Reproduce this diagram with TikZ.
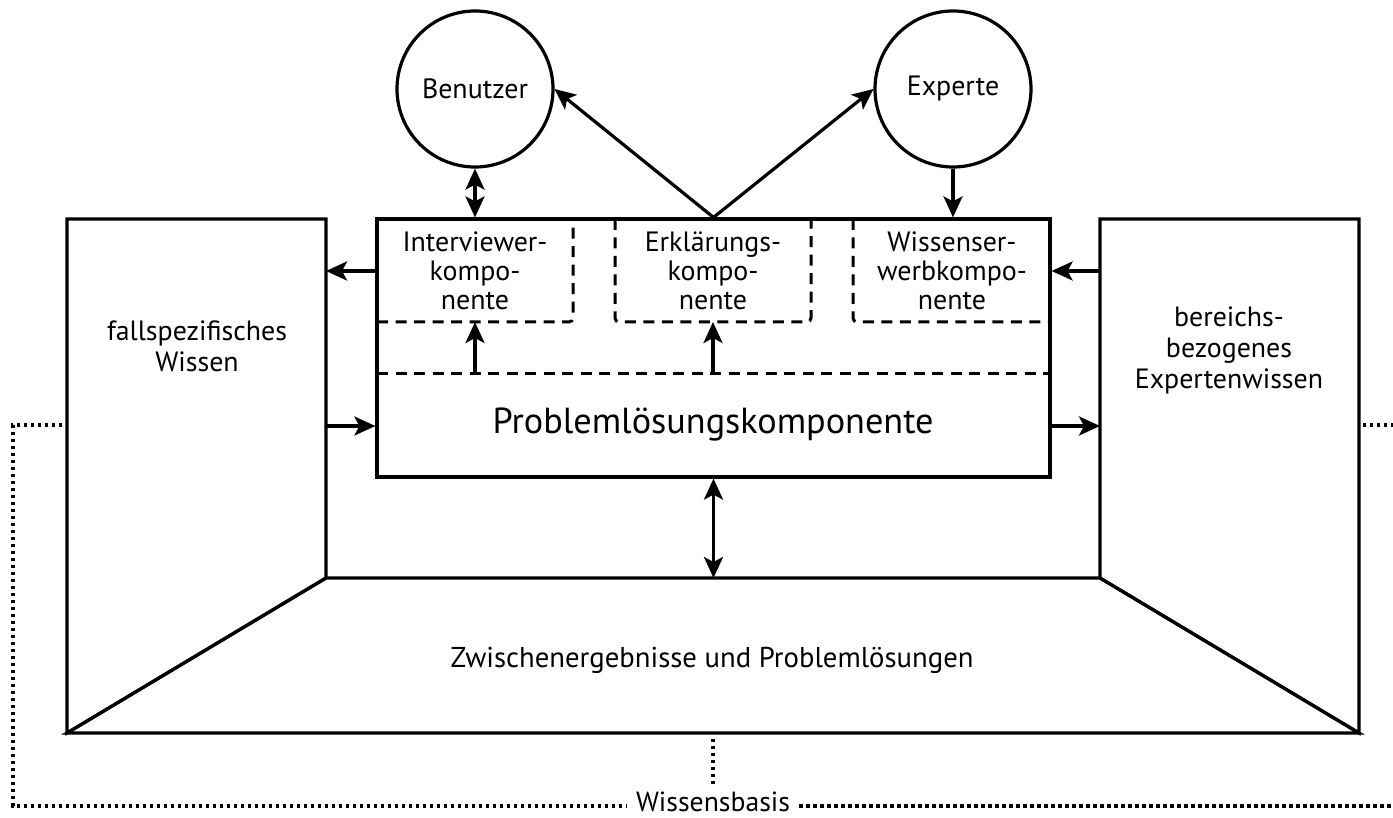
\documentclass[tikz,border=0pt]{standalone}
\usepackage{fontspec}
\setmainfont{PT Sans}
\usetikzlibrary{arrows.meta}
\newlength\fitlen
% #1 target width (pt), #2 baselineskip (pt), #3 sample text
\newcommand\fitfont[3]{%
  \settowidth\fitlen{\fontsize{10pt}{12pt}\selectfont #3}%
  \pgfmathsetmacro\fitsz{10*#1/\fitlen}%
  \fontsize{\fitsz pt}{#2 pt}\selectfont}
\begin{document}
\begin{tikzpicture}[x=1pt,y=-1pt,
  solidline/.style={line width=3.2pt, line join=miter},
  arr/.style={line width=3.2pt,-{Stealth[length=21pt,width=19pt,inset=5pt]}},
  darr/.style={line width=3.2pt,{Stealth[length=21pt,width=19pt,inset=5pt]}-{Stealth[length=21pt,width=19pt,inset=5pt]}},
  dashline/.style={line width=3pt, dash pattern=on 11pt off 7.5pt},
  dotline/.style={line width=3.3pt, dash pattern=on 3.3pt off 3.7pt},
  complbl/.style={font={\fitfont{145}{29}{Interviewer-}}, align=center, inner sep=0pt},
  panellbl/.style={font={\fitfont{180}{31}{fallspezifisches}}, align=center, inner sep=0pt},
  person/.style={circle, draw, line width=3.2pt, minimum size=156pt, inner sep=0pt, font={\fitfont{106}{32}{Benutzer}}},
]
\useasboundingbox (0,0) rectangle (1393,818);

% persons
\node[person] (ben) at (475,89) {Benutzer};
\node[person] (exp) at (953,89) {Experte};

% panels
\draw[solidline] (67,219) -- (326,219) -- (326,578) -- (67,733) -- cycle;
\draw[solidline] (1100,219) -- (1359,219) -- (1359,733) -- (1100,578) -- cycle;
\draw[solidline] (326,578) -- (1100,578) -- (1359,733) -- (67,733) -- cycle;

% dashed sub-boxes
\draw[dashline, rounded corners=4pt] (377,322) -- (573,322) -- (573,219);
\draw[dashline, rounded corners=4pt] (615,219) -- (615,322) -- (811,322) -- (811,219);
\draw[dashline, rounded corners=4pt] (853,219) -- (853,322) -- (1050,322);
\draw[dashline] (377,374) -- (1050,374);

% main box
\node[draw, line width=3.2pt, minimum width=673pt, minimum height=258pt, inner sep=0pt] (box) at (713.5,348) {};

% labels
\node[complbl] (iv) at (475,271) {Interviewer-\\kompo-\\nente};
\node[complbl] (ek) at (713,271) {Erklärungs-\\kompo-\\nente};
\node[complbl] (ww) at (952,271) {Wissenser-\\werbkompo-\\nente};
\node[panellbl] (fw) at (197,346) {fallspezifisches\\Wissen};
\node[panellbl] (be) at (1229,350) {bereichs-\\bezogenes\\Expertenwissen};
\node[font={\fitfont{441}{40}{Problemlösungskomponente}}, inner sep=0pt] (pk) at (713,425) {Problemlösungskomponente};
\node[font={\fitfont{523}{32}{Zwischenergebnisse und Problemlösungen}}, inner sep=0pt] (zw) at (712,660) {Zwischenergebnisse und Problemlösungen};
\node[font={\fitfont{154}{30}{Wissensbasis}}, inner xsep=9pt, inner ysep=0pt] (wb) at (713,802) {Wissensbasis};

% connection points
\coordinate (LPin1) at (326,271);
\coordinate (RPin1) at (1100,271);
\coordinate (LPin2) at (326,426);
\coordinate (RPin2) at (1100,426);
\coordinate (BT) at (713.5,578);
\coordinate (up1a) at (475,374);
\coordinate (up1b) at (475,322);
\coordinate (up2a) at (713,374);
\coordinate (up2b) at (713,322);

% arrows
\draw[darr] (ben.south) -- (ben |- box.north);
\draw[arr] (exp.south) -- (exp |- box.north);
\draw[arr] (box.north) -- (ben.east);
\draw[arr] (box.north) -- (exp.west);
\draw[arr] (box.west |- LPin1) -- (LPin1);
\draw[arr] (RPin1) -- (box.east |- RPin1);
\draw[arr] (LPin2) -- (box.west |- LPin2);
\draw[arr] (box.east |- RPin2) -- (RPin2);
\draw[darr] (box.south) -- (BT);
\draw[arr] (up1a) -- (up1b);
\draw[arr] (up2a) -- (up2b);

% Wissensbasis dotted brace
\coordinate (wl0) at (62,425);
\coordinate (wl1) at (13,425);
\coordinate (wl2) at (13,806);
\coordinate (wr0) at (1363,425);
\coordinate (wr1) at (1393,425);
\coordinate (wr2) at (1393,806);
\coordinate (wt) at (713,739);
\draw[dotline] (wl0) -- (wl1) -- (wl2) -- (wb.west |- wl2);
\draw[dotline] (wb.east |- wr2) -- (wr2);
\draw[dotline] (wr0) -- (wr1);
\draw[dotline] (wt) -- (713,787);
\end{tikzpicture}
\end{document}
